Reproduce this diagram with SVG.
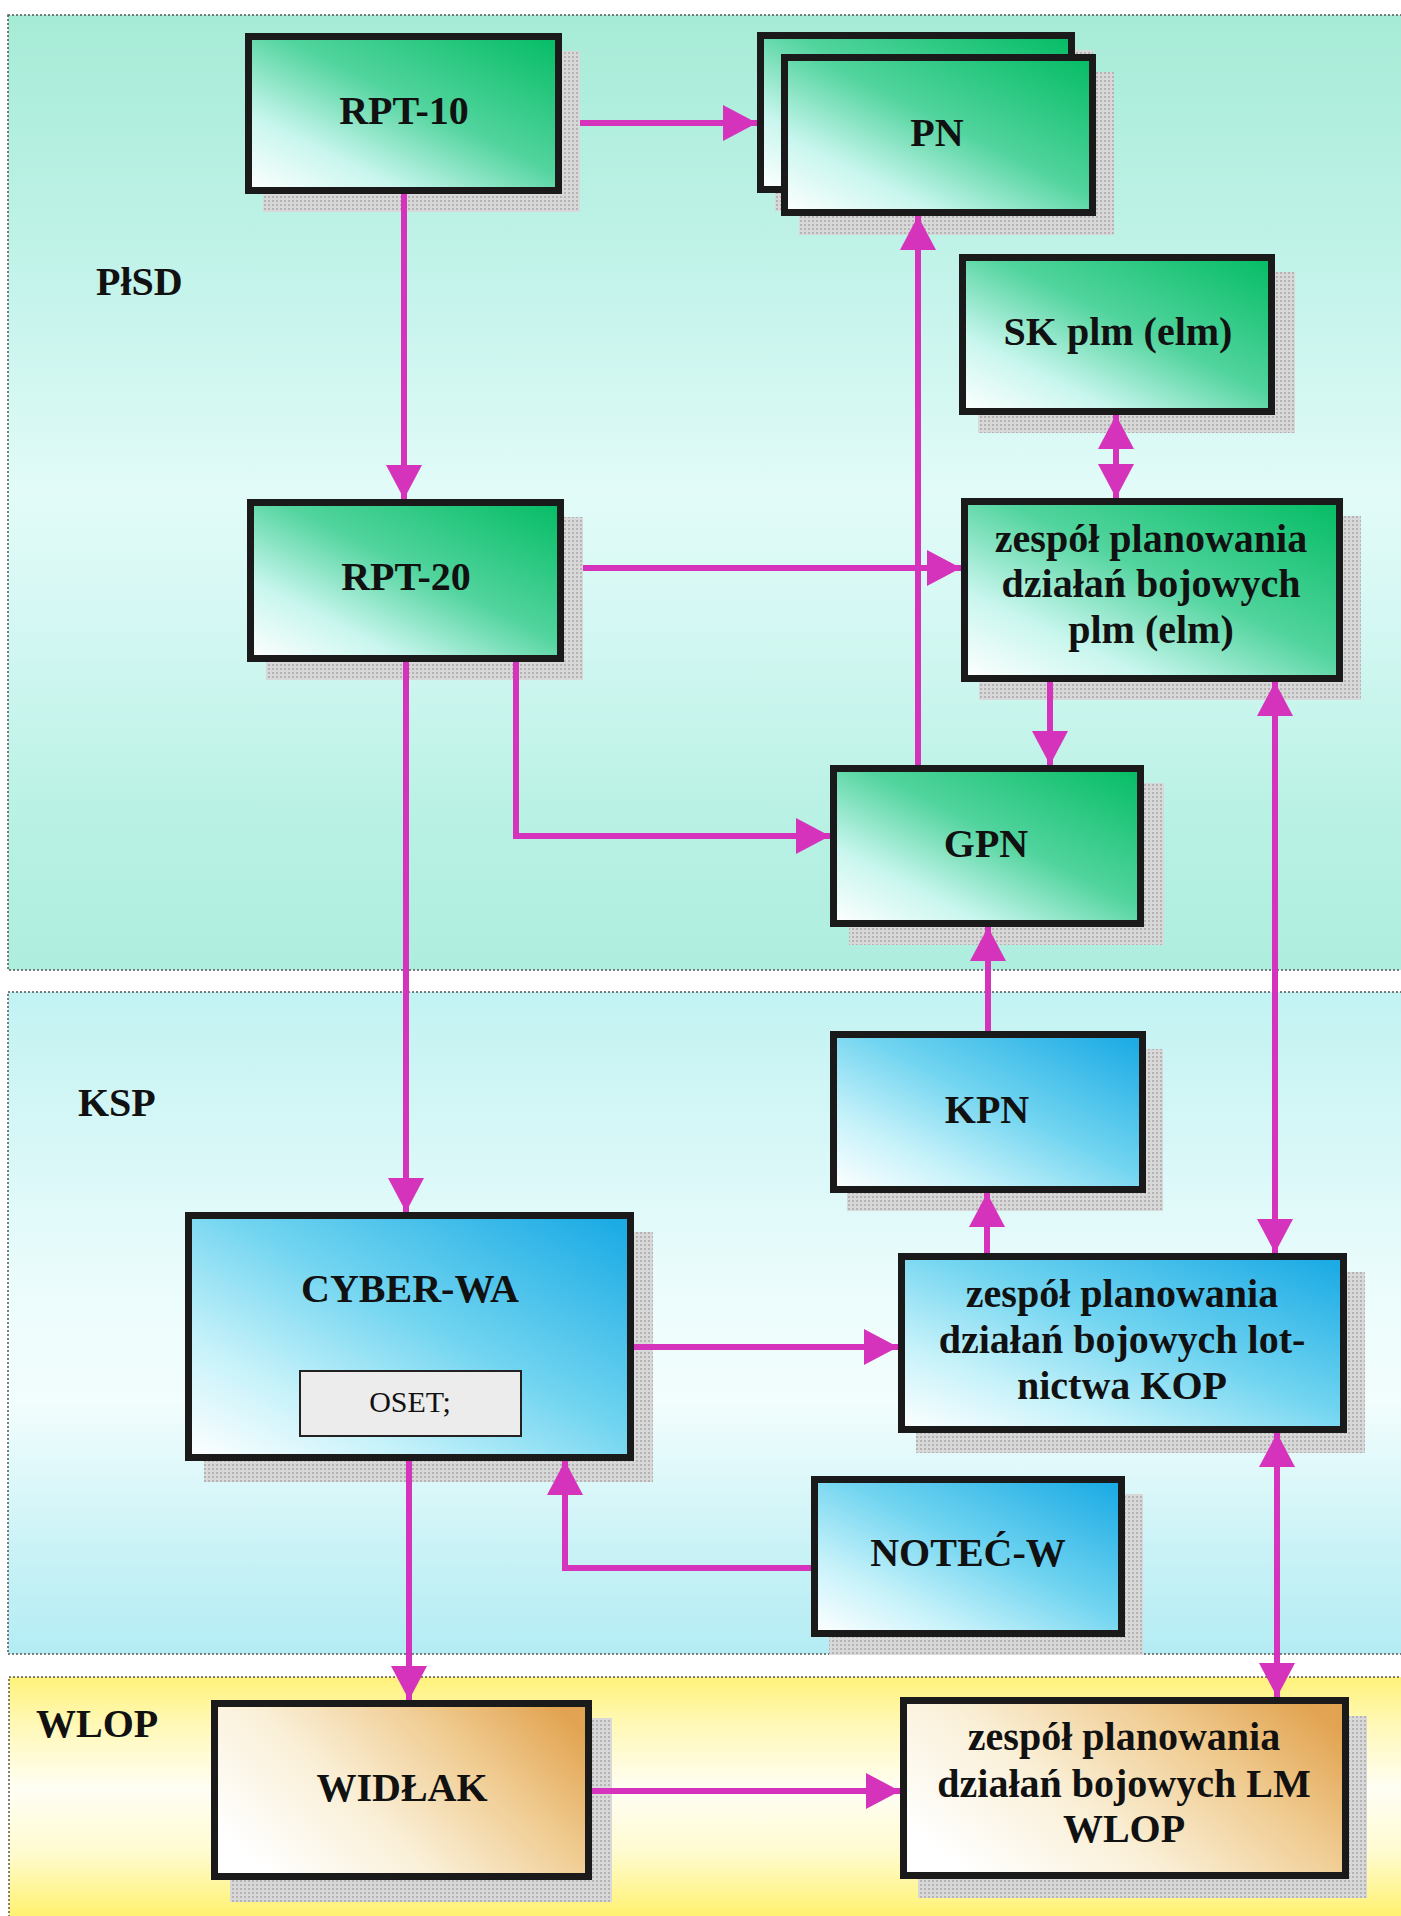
<svg xmlns="http://www.w3.org/2000/svg" width="1401" height="1916" viewBox="0 0 1401 1916">
  <defs>
    <linearGradient id="gPisd" x1="0" y1="0" x2="0" y2="1">
      <stop offset="0" stop-color="#a6ebd6"/>
      <stop offset="0.3" stop-color="#c6f4ec"/>
      <stop offset="0.5" stop-color="#e2fbf8"/>
      <stop offset="0.62" stop-color="#d6f8f4"/>
      <stop offset="0.85" stop-color="#b8f1e4"/>
      <stop offset="1" stop-color="#aeeedf"/>
    </linearGradient>
    <linearGradient id="gKsp" x1="0" y1="0" x2="0" y2="1">
      <stop offset="0" stop-color="#c2f2f2"/>
      <stop offset="0.45" stop-color="#ecfcfc"/>
      <stop offset="0.62" stop-color="#f2fdfd"/>
      <stop offset="0.85" stop-color="#c8f2f6"/>
      <stop offset="1" stop-color="#b4ecf4"/>
    </linearGradient>
    <linearGradient id="gWlop" x1="0" y1="0" x2="0" y2="1">
      <stop offset="0" stop-color="#fff27a"/>
      <stop offset="0.18" stop-color="#fff8b4"/>
      <stop offset="0.45" stop-color="#fffef4"/>
      <stop offset="0.7" stop-color="#fffbd0"/>
      <stop offset="1" stop-color="#fff060"/>
    </linearGradient>
    <linearGradient id="gGreen" x1="0" y1="1" x2="1" y2="0">
      <stop offset="0" stop-color="#ffffff"/>
      <stop offset="0.25" stop-color="#c8f6ee"/>
      <stop offset="0.55" stop-color="#52d49e"/>
      <stop offset="1" stop-color="#04bc64"/>
    </linearGradient>
    <linearGradient id="gBlue" x1="0" y1="1" x2="1" y2="0">
      <stop offset="0" stop-color="#ffffff"/>
      <stop offset="0.25" stop-color="#c6f2fa"/>
      <stop offset="0.55" stop-color="#70d4f0"/>
      <stop offset="1" stop-color="#16a8e4"/>
    </linearGradient>
    <linearGradient id="gTan" x1="0" y1="0.7" x2="1" y2="0.2">
      <stop offset="0" stop-color="#ffffff"/>
      <stop offset="0.35" stop-color="#faf0d8"/>
      <stop offset="0.7" stop-color="#f0cc92"/>
      <stop offset="1" stop-color="#e2a452"/>
    </linearGradient>
    <pattern id="pShadow" width="4" height="4" patternUnits="userSpaceOnUse">
      <rect width="4" height="4" fill="#d8d8d8"/>
      <rect width="2" height="2" fill="#b4b4b4"/>
    </pattern>
    <marker id="ah" viewBox="0 0 34 36" refX="34" refY="18" markerWidth="34" markerHeight="36" markerUnits="userSpaceOnUse" orient="auto-start-reverse">
      <path d="M0,0 L34,18 L0,36 z" fill="#d633bd"/>
    </marker>
    <style>
      .panel { stroke: #555; stroke-width: 1.5; stroke-dasharray: 2 2; }
      .shadow { fill: url(#pShadow); }
      .box { stroke: #1a1a1a; stroke-width: 7; }
      .green { fill: url(#gGreen); }
      .blue { fill: url(#gBlue); }
      .tan { fill: url(#gTan); }
      .lbl { font-family: "Liberation Serif", "Times New Roman", serif; font-weight: bold; font-size: 40px; fill: #111; text-anchor: middle; }
      .zone { font-family: "Liberation Serif", "Times New Roman", serif; font-weight: bold; font-size: 40px; fill: #111; }
      .conn { fill: none; stroke: #d633bd; stroke-width: 6; }
      .oset { font-family: "Liberation Serif", "Times New Roman", serif; font-size: 30px; fill: #111; text-anchor: middle; }
    </style>
  </defs>

  <rect width="1401" height="1916" fill="#ffffff"/>

  <!-- zones -->
  <g id="zone-pisd">
    <rect class="panel" x="8" y="15" width="1400" height="955" fill="url(#gPisd)"/>
    <text class="zone" x="96" y="295">PłSD</text>
  </g>
  <g id="zone-ksp">
    <rect class="panel" x="8" y="992" width="1400" height="662" fill="url(#gKsp)"/>
    <text class="zone" x="78" y="1116">KSP</text>
  </g>
  <g id="zone-wlop">
    <rect class="panel" x="9" y="1677" width="1400" height="250" fill="url(#gWlop)"/>
    <text class="zone" x="36" y="1737">WLOP</text>
  </g>

  <!-- nodes -->
  <g id="rpt10">
    <rect class="shadow" x="263" y="51" width="317" height="161"/>
    <rect class="box green" x="248.5" y="36.5" width="310" height="154"/>
    <text class="lbl" x="404" y="124">RPT-10</text>
  </g>
  <g id="pn">
    <rect class="shadow" x="775" y="50" width="318" height="161"/>
    <rect class="box green" x="760.5" y="35.5" width="311" height="154"/>
    <rect class="shadow" x="799" y="72" width="315" height="163"/>
    <rect class="box green" x="784.5" y="57.5" width="308" height="155"/>
    <text class="lbl" x="937" y="146">PN</text>
  </g>
  <g id="sk">
    <rect class="shadow" x="978" y="272" width="317" height="161"/>
    <rect class="box green" x="962.5" y="257.5" width="309" height="154"/>
    <text class="lbl" x="1118" y="345">SK plm (elm)</text>
  </g>
  <g id="rpt20">
    <rect class="shadow" x="266" y="517" width="317" height="163"/>
    <rect class="box green" x="250.5" y="502.5" width="310" height="156"/>
    <text class="lbl" x="406" y="590">RPT-20</text>
  </g>
  <g id="zespol-plm">
    <rect class="shadow" x="979" y="516" width="382" height="184"/>
    <rect class="box green" x="964.5" y="501.5" width="375" height="177"/>
    <text class="lbl" x="1151" y="552">zespół planowania</text>
    <text class="lbl" x="1151" y="597">działań bojowych</text>
    <text class="lbl" x="1151" y="643">plm (elm)</text>
  </g>
  <g id="gpn">
    <rect class="shadow" x="849" y="783" width="315" height="162"/>
    <rect class="box green" x="833.5" y="768.5" width="307" height="155"/>
    <text class="lbl" x="986" y="857">GPN</text>
  </g>
  <g id="kpn">
    <rect class="shadow" x="847" y="1049" width="316" height="162"/>
    <rect class="box blue" x="833.5" y="1034.5" width="309" height="155"/>
    <text class="lbl" x="987" y="1123">KPN</text>
  </g>
  <g id="cyber">
    <rect class="shadow" x="204" y="1232" width="449" height="250"/>
    <rect class="box blue" x="188.5" y="1215.5" width="442" height="242"/>
    <text class="lbl" x="410" y="1302">CYBER-WA</text>
    <rect x="300" y="1371" width="221" height="65" fill="#ececec" stroke="#222" stroke-width="2"/>
    <text class="oset" x="410" y="1412">OSET;</text>
  </g>
  <g id="zespol-kop">
    <rect class="shadow" x="916" y="1272" width="449" height="181"/>
    <rect class="box blue" x="901.5" y="1256.5" width="442" height="173"/>
    <text class="lbl" x="1122" y="1307">zespół planowania</text>
    <text class="lbl" x="1122" y="1353">działań bojowych lot-</text>
    <text class="lbl" x="1122" y="1399">nictwa KOP</text>
  </g>
  <g id="notec">
    <rect class="shadow" x="829" y="1494" width="314" height="161"/>
    <rect class="box blue" x="814.5" y="1479.5" width="307" height="154"/>
    <text class="lbl" x="968" y="1566">NOTEĆ-W</text>
  </g>
  <g id="widlak">
    <rect class="shadow" x="230" y="1718" width="382" height="184"/>
    <rect class="box tan" x="214.5" y="1703.5" width="374" height="173"/>
    <text class="lbl" x="402" y="1801">WIDŁAK</text>
  </g>
  <g id="zespol-wlop">
    <rect class="shadow" x="918" y="1716" width="449" height="182"/>
    <rect class="box tan" x="903.5" y="1700.5" width="442" height="175"/>
    <text class="lbl" x="1124" y="1750">zespół planowania</text>
    <text class="lbl" x="1124" y="1797">działań bojowych LM</text>
    <text class="lbl" x="1124" y="1842">WLOP</text>
  </g>

  <!-- connectors -->
  <g id="connectors">
    <line class="conn" x1="580" y1="123" x2="757" y2="123" marker-end="url(#ah)"/>
    <line class="conn" x1="404" y1="194" x2="404" y2="499" marker-end="url(#ah)"/>
    <line class="conn" x1="583" y1="568" x2="961" y2="568" marker-end="url(#ah)"/>
    <line class="conn" x1="1116" y1="415" x2="1116" y2="498" marker-start="url(#ah)" marker-end="url(#ah)"/>
    <line class="conn" x1="1050" y1="682" x2="1050" y2="765" marker-end="url(#ah)"/>
    <line class="conn" x1="918" y1="765" x2="918" y2="216" marker-end="url(#ah)"/>
    <polyline class="conn" points="516,662 516,836 830,836" marker-end="url(#ah)"/>
    <line class="conn" x1="406" y1="662" x2="406" y2="1212" marker-end="url(#ah)"/>
    <line class="conn" x1="1275" y1="682" x2="1275" y2="1253" marker-start="url(#ah)" marker-end="url(#ah)"/>
    <line class="conn" x1="988" y1="1031" x2="988" y2="927" marker-end="url(#ah)"/>
    <line class="conn" x1="987" y1="1253" x2="987" y2="1193" marker-end="url(#ah)"/>
    <line class="conn" x1="634" y1="1347" x2="898" y2="1347" marker-end="url(#ah)"/>
    <polyline class="conn" points="811,1568 565,1568 565,1461" marker-end="url(#ah)"/>
    <line class="conn" x1="409" y1="1461" x2="409" y2="1700" marker-end="url(#ah)"/>
    <line class="conn" x1="1277" y1="1433" x2="1277" y2="1697" marker-start="url(#ah)" marker-end="url(#ah)"/>
    <line class="conn" x1="592" y1="1791" x2="900" y2="1791" marker-end="url(#ah)"/>
  </g>
</svg>
